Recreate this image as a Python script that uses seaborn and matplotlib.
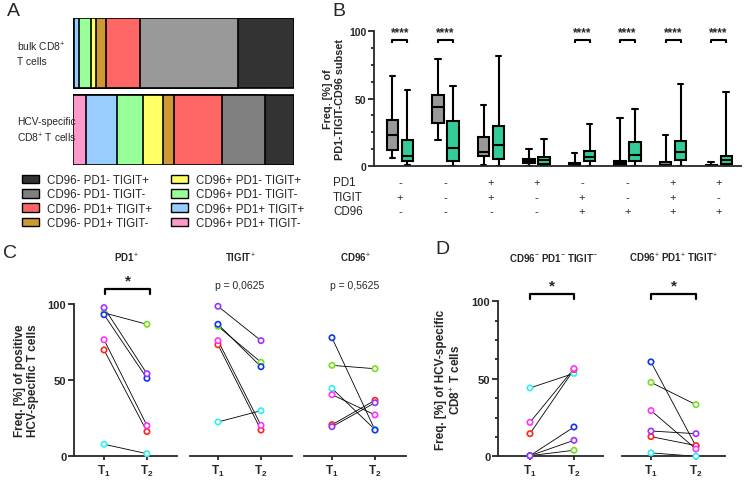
import numpy as np
import pandas as pd
import matplotlib
matplotlib.use("Agg")
import matplotlib.pyplot as plt
import seaborn as sns
from matplotlib.patches import Patch
from matplotlib.ticker import MultipleLocator

# ---------------- data ----------------
# Panel A: composition (% of cells), segments left -> right
populations = ["bulk", "HCV"]
population_labels = ["bulk CD8$^{+}$\nT cells", "HCV-specific\nCD8$^{+}$ T cells"]
subsets = ["CD96+ PD1+ TIGIT-", "CD96+ PD1+ TIGIT+", "CD96+ PD1- TIGIT-", "CD96+ PD1- TIGIT+",
           "CD96- PD1+ TIGIT-", "CD96- PD1+ TIGIT+", "CD96- PD1- TIGIT-", "CD96- PD1- TIGIT+"]
bulk_pct = [0.3, 2.4, 5.3, 2.4, 4.4, 15.3, 44.6, 25.3]
hcv_pct = [5.7, 14.0, 11.9, 9.0, 5.3, 21.3, 19.5, 13.3]
subset_colors = ["#ff99cc", "#99ccff", "#99ff99", "#ffff66", "#cc9933", "#ff6666", "#999999", "#333333"]
hcv_gray = "#808080"
legend_order = [7, 6, 5, 4, 3, 2, 1, 0]

# Panel B: box summaries [min, q1, median, q3, max]
pd1_row = ["-", "-", "+", "+", "-", "-", "+", "+"]
tigit_row = ["+", "-", "+", "-", "+", "-", "+", "-"]
cd96_row = ["-", "-", "-", "-", "+", "+", "+", "+"]
bulk_box = [[6.0, 11.6, 23.1, 34.0, 66.6],
            [19.1, 31.6, 43.7, 52.7, 79.3],
            [0.5, 7.7, 10.2, 21.6, 45.2],
            [0.3, 2.5, 4.0, 5.4, 12.9],
            [0.0, 0.2, 1.0, 2.2, 9.9],
            [0.0, 0.7, 2.0, 3.7, 35.8],
            [0.0, 0.4, 1.0, 2.7, 22.8],
            [0.0, 0.1, 0.3, 0.8, 3.2]]
hcv_box = [[0.5, 3.4, 7.2, 19.4, 56.4],
           [0.0, 4.0, 13.4, 33.3, 59.2],
           [0.0, 4.9, 15.4, 29.3, 81.3],
           [0.0, 1.7, 4.5, 6.4, 19.9],
           [0.0, 3.7, 6.7, 10.9, 31.0],
           [0.0, 3.4, 8.2, 18.1, 42.0],
           [0.0, 4.7, 10.2, 18.6, 60.9],
           [0.0, 1.7, 4.2, 7.4, 54.9]]
sig_groups = [0, 1, 4, 5, 6, 7]

# Panels C/D: paired patients, T1 and T2
subjects = ["P1", "P2", "P3", "P4", "P5", "P6"]
subject_colors = ["#33eeee", "#77dd22", "#1133ee", "#ff2222", "#ff33ff", "#9933ff"]
time_labels = [r"$\mathbf{T_1}$", r"$\mathbf{T_2}$"]
pd1_t1 = [7.9, 94.0, 92.8, 69.7, 76.4, 97.4]
pd1_t2 = [1.7, 86.5, 51.1, 16.2, 20.1, 54.1]
tigit_t1 = [22.5, 85.2, 86.5, 73.1, 75.8, 98.3]
tigit_t2 = [29.9, 61.6, 58.7, 17.2, 20.3, 75.8]
cd96_t1 = [44.5, 59.6, 77.7, 20.7, 40.4, 19.4]
cd96_t2 = [17.5, 57.4, 17.2, 36.7, 27.1, 35.1]
tn_t1 = [44.1, 0.4, 0.4, 14.6, 21.9, 0.4]
tn_t2 = [53.5, 3.9, 18.9, 56.0, 56.6, 10.3]
tp_t1 = [2.2, 47.7, 60.9, 12.7, 29.5, 16.3]
tp_t2 = [0.0, 33.3, 6.5, 6.9, 4.7, 14.6]

# ---------------- style ----------------
sns.set_theme(style="ticks")
plt.rcParams["font.family"] = ["Liberation Sans", "DejaVu Sans"]
plt.rcParams["mathtext.fontset"] = "custom"
plt.rcParams["mathtext.rm"] = "Liberation Sans"
plt.rcParams["mathtext.bf"] = "Liberation Sans:bold"
plt.rcParams["mathtext.it"] = "Liberation Sans:italic"
plt.rcParams["axes.linewidth"] = 1.3

W, H = 747, 485
fig = plt.figure(figsize=(W / 100, H / 100), dpi=100)


def ax_px(x0, y0, x1, y1):
    return fig.add_axes([x0 / W, 1 - y1 / H, (x1 - x0) / W, (y1 - y0) / H])


def fx(x):
    return x / W


def fy(y):
    return 1 - y / H


# ---------------- Panel A ----------------
axA = ax_px(73, 19, 294, 166)
cum_bulk = np.cumsum(bulk_pct)
cum_hcv = np.cumsum(hcv_pct)
for k in range(len(subsets) - 1, -1, -1):
    dfA = pd.DataFrame({"pop": populations, "cum": [cum_bulk[k], cum_hcv[k]]})
    c_b = subset_colors[k]
    c_h = hcv_gray if k == 6 else subset_colors[k]
    sns.barplot(data=dfA, x="cum", y="pop", hue="pop", palette=[c_b, c_h], orient="h",
                width=0.91, edgecolor="black", linewidth=1.2, saturation=1, legend=False, ax=axA)
axA.set_xlim(0, 100)
axA.set_ylim(1.455, -0.455)
axA.axis("off")
for i, lab in enumerate(population_labels):
    axA.text(-56 / 221 * 100, i, lab, ha="left", va="center", fontsize=7.4, linespacing=1.45)

handles = []
labels = []
for k in legend_order:
    c = hcv_gray if k == 6 else subset_colors[k]
    handles.append(Patch(facecolor=c, edgecolor="black", linewidth=1.0))
    labels.append(subsets[k])
axA.legend(handles, labels, loc="upper left", bbox_to_anchor=(fx(22), fy(175)),
           bbox_transform=fig.transFigure, ncol=2, frameon=False, fontsize=8.3,
           handlelength=1.5, handleheight=0.8, handletextpad=0.7, labelspacing=0.2,
           columnspacing=1.6, borderaxespad=0, borderpad=0)

# ---------------- Panel B ----------------
axB = ax_px(374, 32, 741, 167)
group_names = [f"G{i}" for i in range(len(pd1_row))]
rows = []
for i, g in enumerate(group_names):
    for v in bulk_box[i]:
        rows.append((g, "bulk", v))
    for v in hcv_box[i]:
        rows.append((g, "HCV", v))
dfB = pd.DataFrame(rows, columns=["group", "cells", "freq"])
sns.boxplot(data=dfB, x="group", y="freq", hue="cells", order=group_names,
            hue_order=["bulk", "HCV"], palette=["#999999", "#33cc99"], saturation=1,
            width=0.66, gap=0.25, whis=(0, 100), linewidth=1.5, linecolor="black",
            showfliers=False, legend=False, ax=axB)
axB.set_xlim(-0.57, 7.49)
axB.set_ylim(0, 100)
axB.set_xlabel("")
axB.set_ylabel("Freq. [%] of\nPD1-TIGIT-CD96 subset", fontsize=7.8, fontweight="bold", labelpad=3)
axB.set_yticks([0, 50, 100])
axB.set_yticklabels(["0", "50", "100"], fontweight="bold", fontsize=7.5)
axB.yaxis.set_minor_locator(MultipleLocator(12.5))
axB.tick_params(axis="y", which="major", length=4, width=1.3, pad=1.5)
axB.tick_params(axis="y", which="minor", length=2.5, width=1.3)
axB.tick_params(axis="x", length=0, labelbottom=False)
sns.despine(ax=axB)
for i in sig_groups:
    axB.plot([i - 0.165, i - 0.165, i + 0.165, i + 0.165], [91, 93.7, 93.7, 91],
             color="black", lw=1.5, clip_on=False, solid_capstyle="butt")
    axB.text(i, 99.5, "****", ha="center", va="center", fontsize=8.5, fontweight="bold")
tr = axB.get_xaxis_transform()
for row, yy, name in [(pd1_row, 183, "PD1"), (tigit_row, 197.7, "TIGIT"), (cd96_row, 211.7, "CD96")]:
    yf = (167 - yy) / 135
    for i, s in enumerate(row):
        axB.text(i, yf, s, ha="center", va="center", fontsize=8, transform=tr, clip_on=False)
    fig.text(fx(333), fy(yy), name, ha="left", va="center", fontsize=8.4)


# ---------------- Panels C / D ----------------
def paired(ax, t1, t2, xlim, show_y=False, minor=False):
    df = pd.DataFrame({"subject": subjects * 2, "time": [0] * 6 + [1] * 6,
                       "value": list(t1) + list(t2)})
    sns.lineplot(data=df, x="time", y="value", units="subject", estimator=None,
                 color="black", lw=0.6, ax=ax, legend=False)
    sns.scatterplot(data=df, x="time", y="value", hue="subject", hue_order=subjects,
                    palette=dict(zip(subjects, subject_colors)), s=15, ax=ax, legend=False,
                    zorder=3)
    coll = ax.collections[-1]
    fc = coll.get_facecolors()
    coll.set_edgecolors(fc)
    coll.set_facecolors("white")
    coll.set_linewidths(1.2)
    coll.set_clip_on(False)
    ax.set_xlim(*xlim)
    ax.set_ylim(0, 100)
    ax.set_xlabel("")
    ax.set_ylabel("")
    ax.set_xticks([0, 1])
    ax.set_xticklabels(time_labels, fontsize=8.5)
    ax.tick_params(axis="x", length=3, width=1.3, pad=2)
    if show_y:
        ax.set_yticks([0, 50, 100])
        ax.set_yticklabels(["0", "50", "100"], fontweight="bold", fontsize=8)
        ax.tick_params(axis="y", which="major", length=4, width=1.3, pad=1.5)
        if minor:
            ax.yaxis.set_minor_locator(MultipleLocator(12.5))
            ax.tick_params(axis="y", which="minor", length=2.5, width=1.3)
        sns.despine(ax=ax)
    else:
        ax.set_yticks([])
        sns.despine(ax=ax, left=True)


def bracket(x0, x1, y):
    fig.add_artist(plt.Line2D([fx(x0), fx(x0), fx(x1), fx(x1)], [fy(y + 5), fy(y), fy(y), fy(y + 5)],
                              color="black", lw=1.6, transform=fig.transFigure))
    fig.text(fx((x0 + x1) / 2), fy(y - 9), "*", ha="center", va="center", fontsize=11,
             fontweight="bold")


axC1 = ax_px(74, 304.7, 177, 457.3)
paired(axC1, pd1_t1, pd1_t2, (-0.70, 1.70), show_y=True)
axC1.set_ylabel("Freq. [%] of positive\nHCV-specific T cells", fontsize=8.5, fontweight="bold",
                labelpad=6)
axC2 = ax_px(190, 304.7, 292, 457.3)
paired(axC2, tigit_t1, tigit_t2, (-0.65, 1.72))
axC3 = ax_px(304, 304.7, 406, 457.3)
paired(axC3, cd96_t1, cd96_t2, (-0.65, 1.72))

axD1 = ax_px(498, 302.3, 603, 457.3)
paired(axD1, tn_t1, tn_t2, (-0.727, 1.66), show_y=True, minor=True)
axD1.set_ylabel("Freq. [%] of HCV-specific\nCD8$^{+}$ T cells", fontsize=8.5, fontweight="bold",
                labelpad=6)
axD2 = ax_px(622, 302.3, 725, 457.3)
paired(axD2, tp_t1, tp_t2, (-0.644, 1.645))

# titles
for x, t in [(126, "PD1$^{+}$"), (240, "TIGIT$^{+}$"), (355, "CD96$^{+}$"),
             (553, "CD96$^{-}$ PD1$^{-}$ TIGIT$^{-}$"), (673, "CD96$^{+}$ PD1$^{+}$ TIGIT$^{+}$")]:
    fig.text(fx(x), fy(258), t, ha="center", va="center", fontsize=7, fontweight="bold")
fig.text(fx(240), fy(286), "p = 0,0625", ha="center", va="center", fontsize=7.5)
fig.text(fx(355), fy(286), "p = 0,5625", ha="center", va="center", fontsize=7.5)
bracket(105, 150, 290)
bracket(530, 574, 295)
bracket(651, 696, 295)

# panel letters
for x, y, l in [(7, 12, "A"), (332, 12, "B"), (3, 253, "C"), (435, 250, "D")]:
    fig.text(fx(x), fy(y), l, ha="left", va="center", fontsize=14)

fig.savefig("out.png", dpi=100)
